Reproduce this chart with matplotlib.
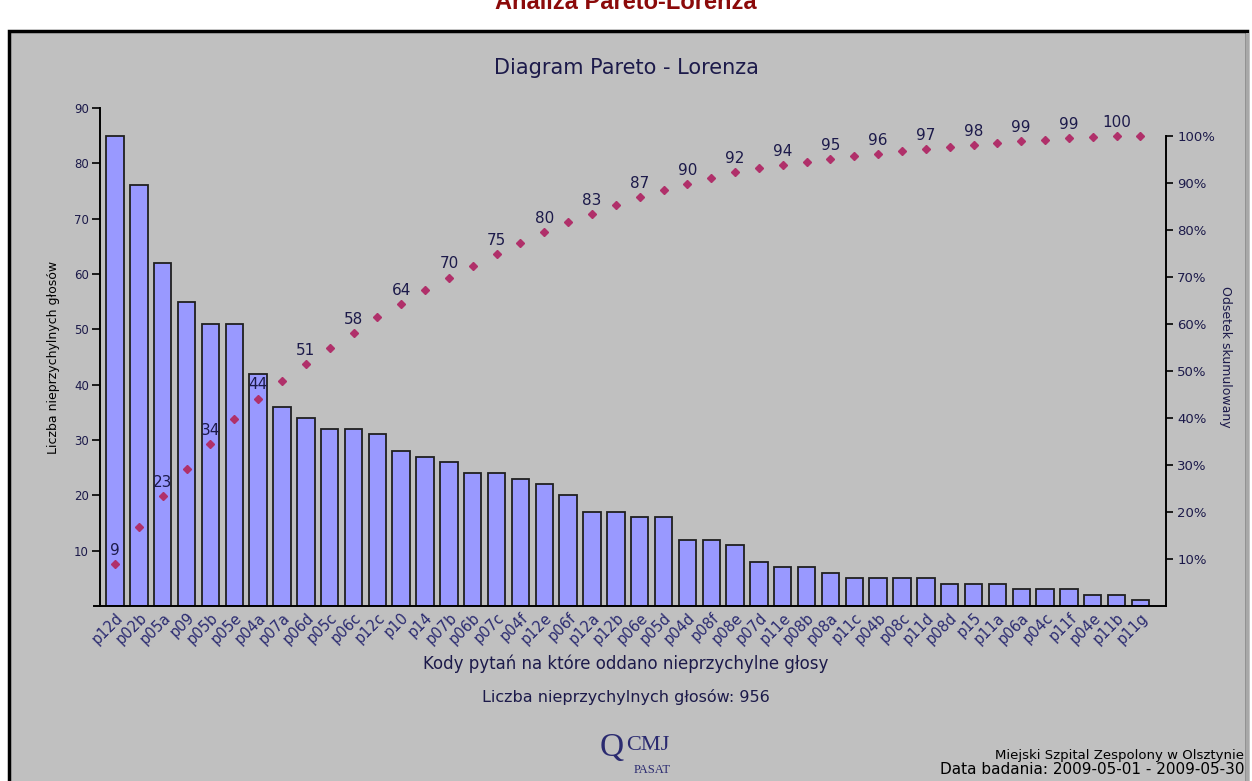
import numpy as np
import matplotlib.pyplot as plt
from matplotlib.patches import Rectangle

# question codes and number of unfavourable votes
codes = ["p12d", "p02b", "p05a", "p09", "p05b", "p05e", "p04a", "p07a", "p06d", "p05c",
         "p06c", "p12c", "p10", "p14", "p07b", "p06b", "p07c", "p04f", "p12e", "p06f",
         "p12a", "p12b", "p06e", "p05d", "p04d", "p08f", "p08e", "p07d", "p11e", "p08b",
         "p08a", "p11c", "p04b", "p08c", "p11d", "p08d", "p15", "p11a", "p06a", "p04c",
         "p11f", "p04e", "p11b", "p11g"]
votes = [85, 76, 62, 55, 51, 51, 42, 36, 34, 32,
         32, 31, 28, 27, 26, 24, 24, 23, 22, 20,
         17, 17, 16, 16, 12, 12, 11, 8, 7, 7,
         6, 5, 5, 5, 5, 4, 4, 4, 3, 3,
         3, 2, 2, 1]
pct_ticks = [10, 20, 30, 40, 50, 60, 70, 80, 90, 100]

total = sum(votes)
cum_pct = np.cumsum(votes) / total * 100

W, H = 1252, 781
fig = plt.figure(figsize=(W / 100, H / 100), dpi=100, facecolor="white")
txt = "#1c1a4a"

# gray panel with frame (behind the axes)
fig.patches.append(Rectangle((9 / W, -0.01), 1238 / W, (H - 31) / H + 0.01,
                             transform=fig.transFigure, facecolor="#c0c0c0",
                             edgecolor="black", linewidth=2.5, zorder=-10))
fig.patches.append(Rectangle((1246 / W, 0), 3 / W, (H - 33) / H,
                             transform=fig.transFigure, facecolor="#a8a8a8",
                             edgecolor="none", zorder=-9))

fig.text(0.5, 1 - 9 / H, "Analiza Pareto-Lorenza", ha="center", va="baseline",
         fontsize=17, fontweight="bold", color="#8b0a0a", family="Liberation Sans")

x0, x1 = 100, 1166
y0, y1 = 606, 108
ax = fig.add_axes([x0 / W, (H - y0) / H, (x1 - x0) / W, (y0 - y1) / H])
ax.set_facecolor("none")

x = np.arange(len(codes))
ax.bar(x, votes, width=0.73, color="#9999ff", edgecolor="#202020", linewidth=1.3, zorder=2)
ax.set_xlim(-0.63, len(codes) - 1 + 1.07)
ax.set_ylim(0, 90)
ax.set_yticks([10, 20, 30, 40, 50, 60, 70, 80, 90])
ax.set_xticks(x)
ax.set_xticklabels(codes, rotation=45, ha="right", rotation_mode="anchor",
                   fontsize=10.5, color="#2a2a70")
ax.tick_params(axis="x", length=0, pad=3)
ax.tick_params(axis="y", length=6, width=1.2, labelsize=8.5, labelcolor=txt, pad=2)
for s in ["top", "right"]:
    ax.spines[s].set_visible(False)
ax.spines["left"].set_linewidth(1.4)
ax.spines["bottom"].set_linewidth(1.4)
ax.spines["bottom"].set_bounds(-0.9, len(codes) - 1 + 1.07)
ax.set_ylabel("Liczba nieprzychylnych głosów", fontsize=9, color="black", labelpad=10)

# cumulative percentage on the right axis
ax2 = ax.twinx()
ax2.set_ylim(0, 100 * (y0 - y1) / (606 - 136))
ax2.set_yticks(pct_ticks)
ax2.set_yticklabels([f"{p}%" for p in pct_ticks])
ax2.tick_params(axis="y", length=5, width=1.2, labelsize=9.5, labelcolor=txt, pad=3)
for s in ["top", "left", "bottom"]:
    ax2.spines[s].set_visible(False)
ax2.spines["right"].set_linewidth(1.4)
ax2.spines["right"].set_bounds(0, 100)
ax2.plot(x, cum_pct, linestyle="none", marker="D", markersize=4.5,
         color="#b0306a", zorder=3)
for i in range(0, len(codes), 2):
    ax2.text(x[i], cum_pct[i] + 1.3, f"{cum_pct[i]:.0f}", ha="center", va="bottom",
             fontsize=11, color=txt, zorder=4)
ax2.set_ylabel("Odsetek skumulowany", fontsize=9, color=txt, rotation=-90, labelpad=12)

fig.text(626 / W, 1 - 68 / H, "Diagram Pareto - Lorenza", ha="center", va="center",
         fontsize=15, color=txt)
fig.text(626 / W, 1 - 664 / H, "Kody pytań na które oddano nieprzychylne głosy",
         ha="center", va="center", fontsize=12, color=txt)
fig.text(626 / W, 1 - 697 / H, f"Liczba nieprzychylnych głosów: {total}",
         ha="center", va="center", fontsize=11.5, color=txt)

# logo
fig.text(612 / W, 1 - 748 / H, "Q", ha="center", va="center", fontsize=24,
         family="Liberation Serif", color="#2a2a70")
fig.text(648 / W, 1 - 746 / H, "CMJ", ha="center", va="center", fontsize=16,
         family="Liberation Serif", color="#2a2a70")
fig.text(652 / W, 1 - 770 / H, "PASAT", ha="center", va="center", fontsize=9,
         family="Liberation Serif", color="#2a2a70")

fig.text(1244 / W, 1 - 755 / H, "Miejski Szpital Zespolony w Olsztynie", ha="right",
         va="center", fontsize=9.5, color="black")
fig.text(1244 / W, 1 - 770 / H, "Data badania: 2009-05-01 - 2009-05-30", ha="right",
         va="center", fontsize=11, color="black")

fig.savefig("out.png", dpi=100, facecolor="white")
